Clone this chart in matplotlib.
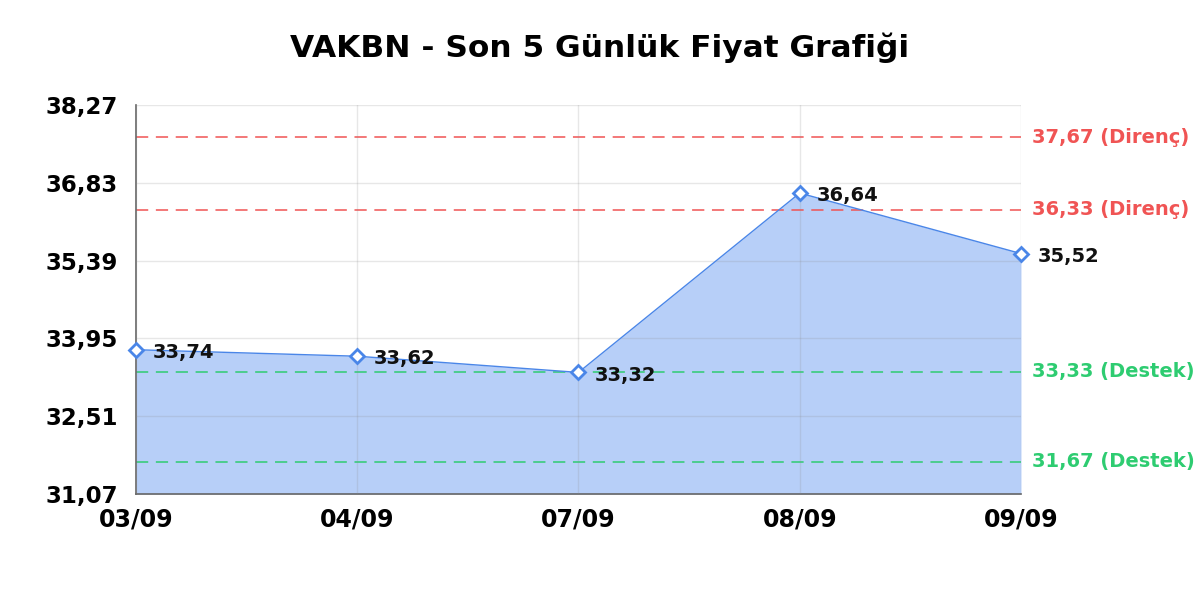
import matplotlib
matplotlib.use("Agg")
import matplotlib.pyplot as plt
import numpy as np

plt.rcParams["font.family"] = ["DejaVu Sans"]

dates = ["03/09", "04/09", "07/09", "08/09", "09/09"]
prices = [33.74, 33.62, 33.32, 36.64, 35.52]
resistance = [37.67, 36.33]
support = [33.33, 31.67]
y_ticks = [31.07, 32.51, 33.95, 35.39, 36.83, 38.27]

def tr(v):
    return f"{v:.2f}".replace(".", ",")

line_col = "#4a86e8"
fill_col = "#b7cff8"
red = "#f05454"
green = "#2ecc71"

fig = plt.figure(figsize=(12, 6), dpi=100)
ax = fig.add_axes([0.1133, 0.1767, 0.7375, 0.6483])
x = np.arange(len(dates))

ax.fill_between(x, prices, y_ticks[0], color=fill_col, zorder=1, lw=0)
ax.plot(x, prices, color=line_col, lw=1.0, zorder=3)
ax.plot(x, prices, ls="none", marker="D", ms=7, mfc="white", mec=line_col,
        mew=2, zorder=4, clip_on=False)

for xi, p in zip(x, prices):
    ax.annotate(tr(p), (xi, p), xytext=(12, -2), textcoords="offset points",
                ha="left", va="center", fontsize=14, fontweight="bold",
                color="#111111", zorder=5)

for lv in resistance:
    ax.axhline(lv, color=red, ls=(0, (8, 5)), lw=1.1, zorder=2)
    ax.annotate(f"{tr(lv)} (Direnç)", (1, lv), xycoords=("axes fraction", "data"),
                xytext=(8, 0), textcoords="offset points", ha="left", va="center",
                fontsize=14, fontweight="bold", color=red)
for lv in support:
    ax.axhline(lv, color=green, ls=(0, (8, 5)), lw=1.1, zorder=2)
    ax.annotate(f"{tr(lv)} (Destek)", (1, lv), xycoords=("axes fraction", "data"),
                xytext=(8, 0), textcoords="offset points", ha="left", va="center",
                fontsize=14, fontweight="bold", color=green)

ax.set_xlim(0, len(dates) - 1)
ax.set_ylim(y_ticks[0], y_ticks[-1])
ax.set_xticks(x)
ax.set_xticklabels(dates, fontsize=17, fontweight="bold")
ax.set_yticks(y_ticks)
ax.set_yticklabels([tr(v) for v in y_ticks], fontsize=16.5, fontweight="bold")
ax.tick_params(length=0)
ax.tick_params(axis="x", pad=10)
ax.tick_params(axis="y", pad=13)
ax.grid(True, color="#8a8a8a", alpha=0.2, lw=1, zorder=2)
ax.set_axisbelow(False)
for s in ["top", "right"]:
    ax.spines[s].set_visible(False)
for s in ["left", "bottom"]:
    ax.spines[s].set_color("#666666")
    ax.spines[s].set_linewidth(1.2)

fig.text(0.5, 0.92, "VAKBN - Son 5 Günlük Fiyat Grafiği", fontsize=22.5,
         fontweight="bold", ha="center", va="center")
fig.savefig("out.png", dpi=100)
